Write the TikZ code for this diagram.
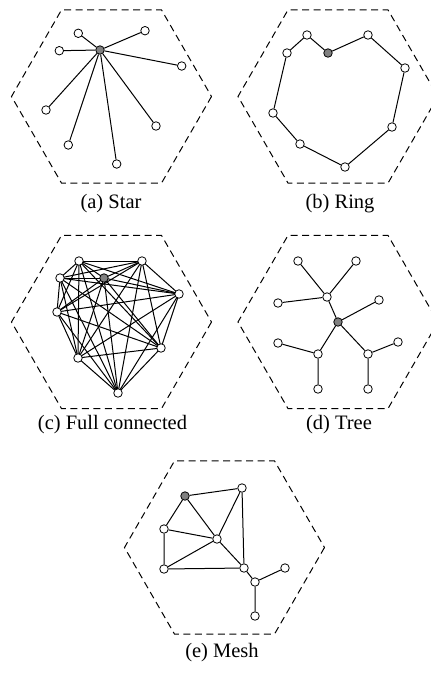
\documentclass[tikz,border=0pt]{standalone}
\usepackage{fontspec}
\setmainfont{Liberation Serif}
\usetikzlibrary{backgrounds}
\tikzset{
  nd/.style={circle,draw,fill=white,minimum size=8.5pt,inner sep=0pt,line width=0.8pt},
  hub/.style={nd,fill=black!50},
  edge/.style={line width=1pt},
  hexline/.style={line width=1pt,dash pattern=on 7pt off 4.5pt},
  captext/.style={inner sep=0pt,font=\fontsize{20.5}{24}\selectfont}
}
\newcommand\hexat[2]{\begin{scope}[shift={(#1,#2)}]\draw[hexline] (100,0)--(50,86.6)--(-50,86.6)--(-100,0)--(-50,-86.6)--(50,-86.6)--cycle;\end{scope}}
\begin{document}
\begin{tikzpicture}[x=1pt,y=-1pt]
\useasboundingbox (0,0) rectangle (431,673);
% hexagons
\hexat{111.5}{96.5}
\hexat{338}{96.5}
\hexat{111.5}{322}
\hexat{338}{322}
\hexat{224.5}{547.5}
% (a) Star
\node[hub] (a0) at (100,50) {};
\node[nd] (a1) at (78.3,33.3) {};
\node[nd] (a2) at (145,30.7) {};
\node[nd] (a3) at (59.3,50.7) {};
\node[nd] (a4) at (181.7,66) {};
\node[nd] (a5) at (46,110) {};
\node[nd] (a6) at (156,126) {};
\node[nd] (a7) at (68.3,145) {};
\node[nd] (a8) at (116.7,164) {};
\begin{pgfonlayer}{background}
\foreach \i in {1,...,8} \draw[edge] (a0)--(a\i);
\end{pgfonlayer}
\node[captext] (capa) at (111,204) {(a) Star};
% (b) Ring
\node[nd] (b1) at (287,53) {};
\node[nd] (b2) at (307,35) {};
\node[hub] (b3) at (328,53) {};
\node[nd] (b4) at (368,35) {};
\node[nd] (b5) at (405,68) {};
\node[nd] (b6) at (392,127) {};
\node[nd] (b7) at (345,167) {};
\node[nd] (b8) at (300,144) {};
\node[nd] (b9) at (273,113) {};
\begin{pgfonlayer}{background}
\draw[edge] (b1)--(b2)--(b3)--(b4)--(b5)--(b6)--(b7)--(b8)--(b9)--(b1);
\end{pgfonlayer}
\node[captext] (capb) at (340,204) {(b) Ring};
% (c) Full connected
\node[nd] (c1) at (79,261) {};
\node[nd] (c2) at (142,261) {};
\node[nd] (c3) at (60,278) {};
\node[hub] (c4) at (104,278) {};
\node[nd] (c5) at (179,294) {};
\node[nd] (c6) at (57,312) {};
\node[nd] (c7) at (161,348) {};
\node[nd] (c8) at (78,358) {};
\node[nd] (c9) at (118,393) {};
\begin{pgfonlayer}{background}
\foreach \i in {1,...,8}{
  \pgfmathtruncatemacro\nxt{\i+1}
  \foreach \j in {\nxt,...,9} \draw[edge] (c\i.center)--(c\j.center);
}
\end{pgfonlayer}
\node[captext] (capc) at (112.5,425) {(c) Full connected};
% (d) Tree
\node[hub] (d0) at (338,322) {};
\node[nd] (d1) at (327,297) {};
\node[nd] (d2) at (298,261) {};
\node[nd] (d3) at (356,261) {};
\node[nd] (d4) at (278,303) {};
\node[nd] (d5) at (379,300) {};
\node[nd] (d6) at (278,343) {};
\node[nd] (d7) at (318,354) {};
\node[nd] (d8) at (318,389) {};
\node[nd] (d9) at (368,354) {};
\node[nd] (d10) at (398,342) {};
\node[nd] (d11) at (368,389) {};
\begin{pgfonlayer}{background}
\draw[edge] (d0)--(d1) (d1)--(d2) (d1)--(d3) (d1)--(d4) (d0)--(d5)
  (d0)--(d7) (d7)--(d6) (d7)--(d8) (d0)--(d9) (d9)--(d10) (d9)--(d11);
\end{pgfonlayer}
\node[captext] (capd) at (339,425) {(d) Tree};
% (e) Mesh
\node[hub] (e1) at (185,496) {};
\node[nd] (e2) at (242,488) {};
\node[nd] (e3) at (164,529) {};
\node[nd] (e4) at (217,539) {};
\node[nd] (e5) at (164,569) {};
\node[nd] (e6) at (244,568) {};
\node[nd] (e7) at (255,582) {};
\node[nd] (e8) at (285,568) {};
\node[nd] (e9) at (255,616) {};
\begin{pgfonlayer}{background}
\draw[edge] (e1)--(e2) (e1)--(e3) (e1)--(e4) (e3)--(e4) (e3)--(e5) (e5)--(e4)
  (e5)--(e6) (e4)--(e2) (e4)--(e6) (e2)--(e6) (e6)--(e7) (e7)--(e8) (e7)--(e9);
\end{pgfonlayer}
\node[captext] (cape) at (222,653) {(e) Mesh};
\end{tikzpicture}
\end{document}
